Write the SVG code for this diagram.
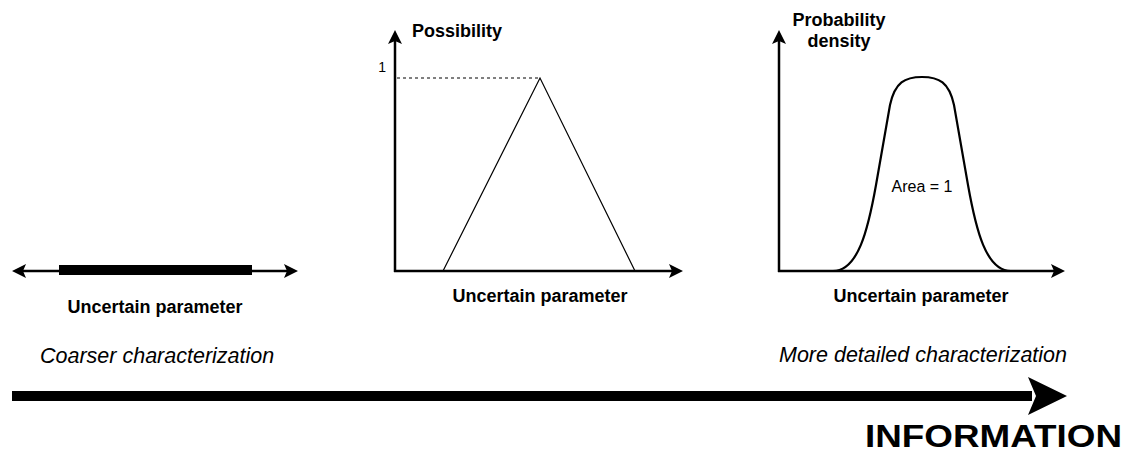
<svg xmlns="http://www.w3.org/2000/svg" width="1126" height="459" viewBox="0 0 1126 459">
<style>
.ax{stroke:#000;stroke-width:2.5;fill:none}
.thin{stroke:#000;stroke-width:1.2;fill:none}
.lbl{font-family:"Liberation Sans",Arial,sans-serif;font-weight:bold;font-size:18px;fill:#000}
.it{font-family:"Liberation Sans",Arial,sans-serif;font-style:italic;font-size:21.5px;fill:#000}
.reg{font-family:"Liberation Sans",Arial,sans-serif;font-size:16px;fill:#000}
</style>
<defs>
<marker id="ah" markerUnits="userSpaceOnUse" markerWidth="16" markerHeight="16" viewBox="0 0 16 16" refX="7" refY="8" orient="auto-start-reverse">
<path d="M1,1 L15,8 L1,15 L4,8 Z" fill="#000"/>
</marker>
</defs>
<g id="interval">
<line class="ax" x1="20" y1="271" x2="290" y2="271" marker-start="url(#ah)" marker-end="url(#ah)"/>
<rect x="59" y="265" width="193" height="10" fill="#000"/>
<text class="lbl" x="155" y="313" text-anchor="middle">Uncertain parameter</text>
</g>
<g id="possibility">
<line class="ax" x1="395" y1="272" x2="395" y2="38" marker-end="url(#ah)"/>
<line class="ax" x1="394" y1="271" x2="675" y2="271" marker-end="url(#ah)"/>
<line x1="397" y1="78" x2="540" y2="78" stroke="#000" stroke-width="1" stroke-dasharray="3,3"/>
<polyline class="thin" points="443,271 540,78 635,271"/>
<text class="reg" x="386" y="72" text-anchor="end" style="font-size:14px">1</text>
<text class="lbl" x="412" y="37">Possibility</text>
<text class="lbl" x="540" y="302" text-anchor="middle">Uncertain parameter</text>
</g>
<g id="probability">
<line class="ax" x1="779" y1="272" x2="779" y2="38" marker-end="url(#ah)"/>
<line class="ax" x1="778" y1="271" x2="1057" y2="271" marker-end="url(#ah)"/>
<path class="ax" style="stroke-width:2.2" d="M833,271 C858,271 868,230 876,185 L890,105 C895,82 905,77 922,77 C939,77 949,82 954,105 L968,185 C976,230 986,271 1011,271"/>
<text class="reg" x="922" y="192" text-anchor="middle">Area = 1</text>
<text class="lbl" x="839" y="26" text-anchor="middle">Probability</text>
<text class="lbl" x="839" y="47" text-anchor="middle">density</text>
<text class="lbl" x="921" y="302" text-anchor="middle">Uncertain parameter</text>
</g>
<g id="information">
<rect x="12" y="391" width="1020" height="10" fill="#000"/>
<path d="M1028,377 L1067,396 L1028,415 L1036,396 Z" fill="#000"/>
<text class="it" x="40" y="363">Coarser characterization</text>
<text class="it" x="1067" y="362" text-anchor="end">More detailed characterization</text>
<text class="lbl" x="1122" y="447" text-anchor="end" style="font-size:32px" textLength="257" lengthAdjust="spacingAndGlyphs">INFORMATION</text>
</g>
</svg>
